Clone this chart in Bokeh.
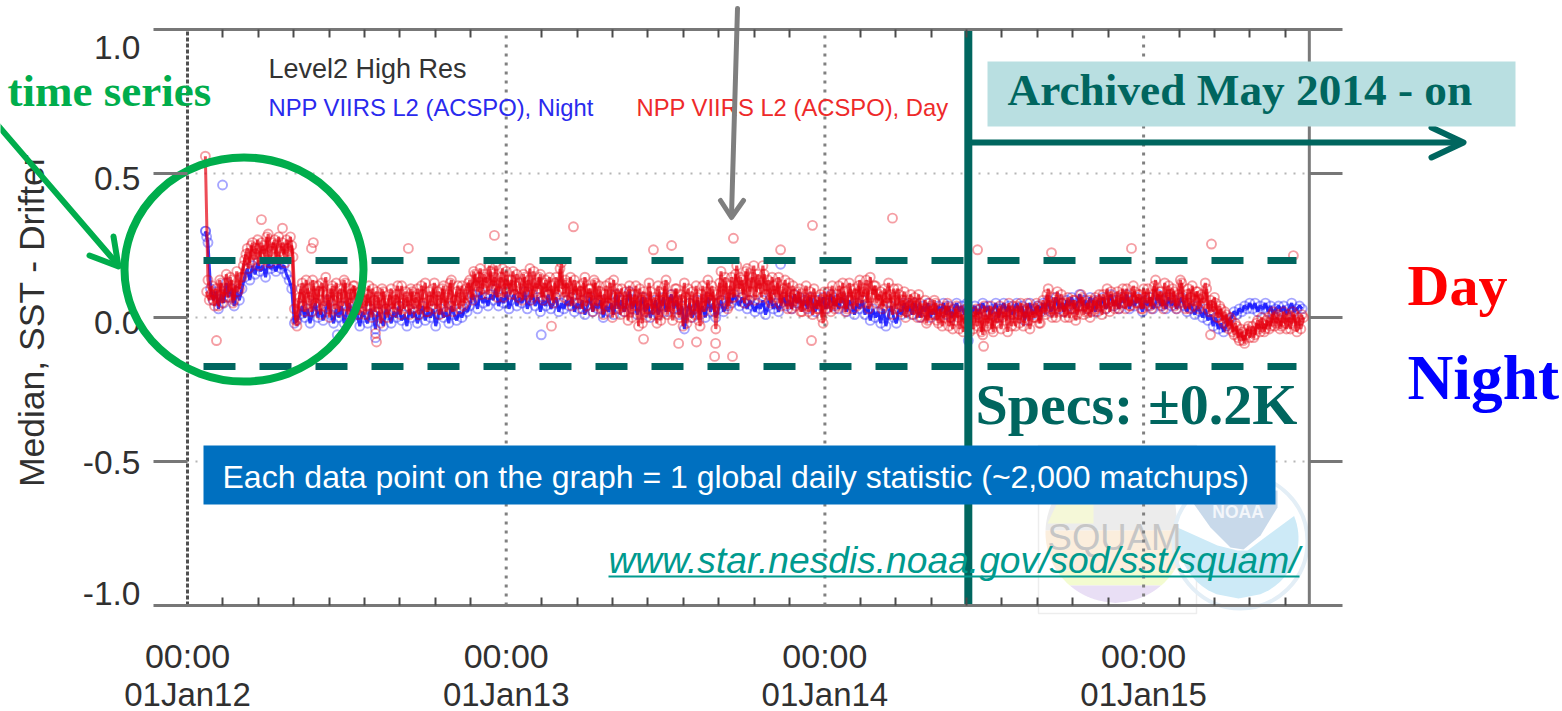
import numpy as np
from bokeh.plotting import figure
from bokeh.models import LinearAxis, FixedTicker
from bokeh.core.properties import value
from bokeh.embed import file_html
from bokeh.resources import INLINE

W, H = 1562, 711

# ---- data -----------------------------------------------------------------
start_year = 2012.056
step_year = 3 / 365.25

day_median = [
 .56,.13,.08,.06,.10,.04,.12,.07,.15,.09,
 .13,.06,.16,.10,.14,.20,.24,.19,.26,.22,
 .27,.21,.25,.20,.29,.23,.26,.21,.28,.24,
 .22,.27,.23,.25,.03,-.03,.07,.12,.02,.10,
 .06,.13,.04,.11,.01,.09,.14,.03,.10,.06,
 .12,.02,.08,.13,.04,.10,.05,.11,.03,.09,
 .06,.01,.08,.04,.10,.02,.07,-.02,.09,.03,
 .06,.10,.02,.08,.04,.11,.03,.07,.01,.09,
 .05,.10,.03,.08,.12,.02,.06,.10,.03,.09,
 .05,.11,.02,.08,.13,.04,.09,.03,.11,.05,
 .08,.13,.06,.15,.09,.17,.10,.14,.08,.16,
 .11,.18,.09,.14,.07,.16,.10,.13,.08,.15,
 .12,.06,.14,.09,.17,.07,.12,.10,.15,.06,
 .13,.08,.11,.05,.14,.09,.19,.07,.12,.10,
 .04,.13,.08,.11,.03,.14,.07,.10,.02,.12,
 .06,.09,.01,.11,.05,.08,.13,.03,.07,.10,
 .02,.06,.11,.00,.08,.04,.10,-.02,.07,.03,
 .09,.01,.05,.11,-.01,.06,.13,.02,.08,.04,
 .10,.00,.06,.12,-.02,.05,.09,.01,.07,-.03,
 .11,.04,.13,.06,.09,-.04,.05,.16,.08,.12,
 .04,.14,.07,.18,.10,.13,.05,.17,.09,.14,
 .06,.15,.10,.18,.08,.13,.05,.11,.07,.14,
 .04,.10,.06,.12,.03,.08,.05,.10,.02,.07,
 .04,.09,.01,.06,.03,.08,-.02,.05,.09,.02,
 .07,.04,.11,.05,.09,.03,.12,.06,.10,.04,
 .13,.07,.10,.05,.14,.08,.11,.06,.09,.04,
 .07,.12,.05,.10,.03,.08,.04,.09,.02,.06,
 .03,.07,.00,.05,.02,.06,-.01,.04,.01,.05,
 -.02,.03,.00,.04,-.03,.02,-.01,.04,-.04,.01,
 -.02,.03,-.05,.00,.02,-.03,.03,-.06,.01,-.02,
 .04,-.05,.00,.03,-.04,.02,-.01,.05,-.03,.01,
 .04,-.02,.03,.00,.05,-.04,.02,.00,.04,-.02,
 .06,.01,.10,.03,.07,.00,.04,.08,.02,.05,
 .00,.03,.06,.01,.04,.07,.02,.05,.00,.04,
 .07,.02,.05,.08,.03,.06,.09,.04,.07,.03,
 .08,.05,.10,.04,.07,.09,.05,.08,.03,.07,
 .10,.04,.08,.13,.05,.09,.03,.07,.11,.05,
 .09,.03,.07,.12,.05,.08,.03,.11,.06,.09,
 .04,.07,.12,.03,.06,.02,.05,.00,.03,-.02,
 .01,-.04,-.01,-.06,-.03,-.08,-.05,-.09,-.04,-.07,
 -.03,-.06,-.01,-.05,-.02,-.04,.00,-.03,.02,-.02,
 .01,-.03,.02,-.04,.00,-.02,.01,-.05,-.01,.01,
]
day_median_b = [
 .09,.06,.11,.04,.08,.13,.05,.10,.07,.14,
 .05,.11,.09,.14,.18,.22,.17,.25,.20,.24,
 .18,.26,.22,.28,.19,.24,.27,.20,.23,.26,
 .19,.24,.28,.21,-.01,.05,.10,.04,.13,.07,
 .02,.11,.05,.09,.12,.04,.08,.00,.11,.03,
 .07,.10,.04,.12,.01,.08,.11,.06,.01,.05,
 .09,.04,.11,.00,.06,.09,.03,.10,.05,.00,
 .08,.03,.06,.11,.01,.05,.09,.04,.10,.03,
 .07,.01,.11,.05,.02,.09,.04,.12,.06,.01,
 .10,.04,.07,.12,.02,.06,.11,.07,.04,.10,
 .12,.07,.16,.11,.14,.08,.15,.12,.18,.10,
 .14,.07,.12,.17,.10,.13,.08,.16,.11,.07,
 .10,.15,.08,.13,.06,.16,.09,.14,.07,.12,
 .09,.14,.06,.12,.08,.17,.10,.13,.06,.14,
 .08,.11,.05,.09,.12,.04,.10,.06,.13,.04,
 .11,.03,.08,.04,.12,.00,.07,.10,.01,.05,
 .09,-.01,.08,.04,.11,-.03,.06,.09,.00,.12,
 .03,.07,-.02,.09,.04,.11,.01,.07,-.01,.10,
 .03,.08,-.03,.07,.10,.00,.04,.11,-.01,.08,
 .02,.09,.05,.11,.02,.08,.12,.06,.14,.03,
 .11,.07,.15,.09,.14,.08,.16,.06,.12,.18,
 .09,.13,.07,.15,.11,.06,.14,.08,.12,.05,
 .09,.13,.03,.07,.11,.04,.09,.02,.06,.11,
 .02,.06,.10,.03,.07,.00,.09,.03,.06,.11,
 .03,.08,.05,.12,.02,.07,.10,.03,.08,.11,
 .05,.09,.13,.03,.07,.11,.05,.08,.03,.10,
 .05,.08,.01,.06,.10,.02,.06,.00,.05,.08,
 .01,.04,.08,.00,.03,-.02,.05,.01,.06,-.01,
 .03,-.03,.02,.05,.00,-.04,.03,.00,.02,-.05,
 .03,-.01,.02,-.04,.03,.00,-.05,.04,-.03,.02,
 -.04,.02,-.02,.04,.00,.03,-.05,.02,.04,-.03,
 .01,.05,-.03,.02,-.01,.03,.00,.05,-.02,.03,
 .02,.08,.04,.00,.05,.09,.02,.05,.00,.07,
 .03,.06,-.01,.04,.08,.01,.03,.06,.02,.06,
 .03,.08,.01,.05,.10,.02,.06,.03,.09,.05,
 .10,.03,.07,.04,.11,.05,.08,.03,.10,.05,
 .07,.03,.11,.06,.09,.04,.12,.06,.08,.10,
 .04,.08,.13,.06,.03,.10,.07,.04,.09,.03,
 .08,.05,.10,.02,.04,.07,.00,.04,-.01,.02,
 -.03,.00,-.05,-.02,-.07,-.04,-.08,-.06,-.03,-.05,
 -.07,-.02,-.04,.00,-.05,-.01,-.04,.01,-.03,.00,
 -.04,.00,-.02,.01,-.04,.02,-.03,.00,-.04,.00,
]
night_median = [
 .30,.26,.10,.06,.09,.03,.08,.05,.12,.07,
 .10,.04,.09,.06,.10,.14,.17,.13,.18,.15,
 .19,.16,.18,.14,.19,.17,.18,.16,.19,.17,
 .18,.15,.13,.10,-.02,-.01,.01,.04,.00,.03,
 -.02,.02,.05,.00,.03,-.01,.02,.06,.01,-.02,
 .03,.00,.04,-.02,.02,.05,.00,.03,.01,-.03,
 .02,.00,-.02,.03,.01,-.04,.02,.00,-.03,.03,
 .01,-.02,.02,.00,.04,-.01,.01,-.03,.03,.00,
 .02,-.02,.01,.04,-.01,.02,.00,.03,-.03,.01,
 .03,.00,.02,-.02,.04,.01,-.01,.02,.00,.03,
 .02,.04,.08,.06,.03,.09,.05,.07,.04,.08,
 .06,.10,.04,.07,.05,.09,.03,.06,.08,.04,
 .07,.05,.09,.03,.06,.08,.04,.07,.02,.06,
 .04,.08,.03,.05,.07,.02,.05,.03,.06,.04,
 .07,.02,.05,.03,.06,.01,.04,.07,.02,.05,
 .03,.06,.00,.04,.02,.05,.01,.08,.03,.06,
 .02,.05,.09,.03,.06,.01,.04,.07,.02,.05,
 .00,.03,.06,.01,.04,.07,.02,.05,.08,.03,
 .06,.01,.04,-.04,.02,.05,.00,.03,.06,.01,
 .04,.00,.07,.02,.05,.00,.03,.06,.02,.04,
 .07,.05,.08,.06,.04,.07,.05,.03,.06,.04,
 .02,.05,.03,.06,.01,.04,.07,.03,.05,.02,
 .05,.07,.04,.06,.03,.08,.05,.07,.04,.06,
 .03,.07,.05,.02,.06,.04,.07,.03,.05,.08,
 .04,.06,.03,.07,.05,.02,.06,.04,.01,.05,
 .03,.06,.01,.04,-.01,.03,.00,.02,-.02,.03,
 -.03,.01,.04,.00,-.02,.03,.01,.05,.02,.04,
 .01,.05,.03,.00,.04,.02,.05,.00,.03,.01,
 .04,.02,.05,.01,.04,.00,.03,.05,.02,.04,
 .01,.05,.03,.02,.04,.01,.03,.05,.02,.04,
 .01,.03,.05,.00,.03,.05,.02,.04,.01,.03,
 .05,.02,.04,-.01,.03,.05,.01,.03,.04,.02,
 .05,.03,.06,.02,.04,.07,.03,.05,.02,.06,
 .04,.07,.03,.05,.08,.04,.06,.03,.07,.05,
 .02,.06,.04,.07,.03,.05,.08,.04,.06,.03,
 .07,.05,.08,.03,.06,.04,.07,.05,.02,.06,
 .04,.07,.03,.05,.08,.04,.06,.03,.07,.04,
 .06,.03,.05,.07,.04,.02,.05,.03,.01,.04,
 .02,.00,.03,-.01,.01,-.03,.00,-.04,-.02,-.05,
 -.03,-.01,.00,.02,.01,.03,.02,.04,.03,.05,
 .03,.05,.02,.04,.03,.05,.02,.04,.01,.03,
 .04,.02,.04,.01,.03,.05,.02,.03,.04,.03,
]
day_out_x = [2012.091,2012.232,2012.298,2012.389,2012.395,2012.693,2012.963,2013.211,2013.142,2013.462,
             2013.519,2013.431,2013.541,2013.597,2013.654,2013.657,2013.710,2013.713,2013.861,2013.958,
             2013.961,2014.212,2014.479,2014.498,2014.711,2014.962,2015.210,2015.213,2015.470,2012.593,2012.590]
day_out_y = [-.08,.34,.31,.24,.26,.24,.285,.315,-.03,.235,
             .25,-.075,-.09,-.085,-.135,-.09,-.135,.275,.235,-.08,
             .32,.345,.235,-.10,.225,.24,-.06,.255,.215,-.085,-.055]
night_out_x = [2012.110,2012.057,2012.060,2013.110,2013.861,2014.450,2012.590,2012.470]
night_out_y = [.46,.30,.28,-.06,.185,-.08,-.07,-.06]

y_ticks = [-1.0,-0.5,0.0,0.5,1.0]
y_tick_labels = ["-1.0","-0.5","0.0","0.5","1.0"]
x_ticks = [2012,2013,2014,2015]
x_time_labels = ["00:00","00:00","00:00","00:00"]
x_date_labels = ["01Jan12","01Jan13","01Jan14","01Jan15"]
spec_hi, spec_lo = 0.198, -0.17
archive_year = 2014.45
last_year = 2015.52

# ---- placement ------------------------------------------------------------
def X(px): return 2012 + (px - 187) / 318.7
def Y(py): return (317 - py) / 288

p = figure(width=W, height=H, output_backend="svg", toolbar_location=None,
           x_range=(X(0), X(W)), y_range=(Y(H), Y(0)),
           x_axis_type=None, y_axis_type=None, min_border=0, outline_line_color=None)
p.grid.visible = False
SANS, SERIF = "Liberation Sans", "Liberation Serif"
TEAL = "#00665f"

def txt(px, py, s, size, color, font=SANS, style="normal", align="left", angle=0):
    p.text([X(px)], [Y(py)], text=[s], text_font=value(font), text_font_size=value(f"{size}px"),
           text_font_style=style, text_color=color, text_align=align, text_baseline="middle", angle=angle)

def poly(pts, **kw):
    p.line([X(a) for a, b in pts], [Y(b) for a, b in pts], line_cap="round", line_join="round", **kw)

def shape(pts, color):
    p.patch([X(a) for a, b in pts], [Y(b) for a, b in pts], color=color, line_color=None)

def band(cx, cy, r, y0, y1, color):
    ys = np.linspace(y0, y1, 30)
    dx = np.sqrt(np.maximum(r * r - (ys - cy) ** 2, 0))
    xs = np.r_[cx - dx, (cx + dx)[::-1]]
    p.patch(X(xs), Y(np.r_[ys, ys[::-1]]), color=color, line_color=None)

# ---- faint logos ----------------------------------------------------------
p.quad(left=[X(1038)], right=[X(1196)], top=[Y(445)], bottom=[Y(613)], fill_color=None, line_color="#ededed", line_width=1.5)
for y0, y1, c in [(470, 530, "#ececec"), (530, 570, "#fbeedd"), (570, 585, "#f3fbd0"), (585, 603, "#e9dff5")]:
    band(1115, 532, 70, y0, y1, c)
shape([(1056, 504), (1093, 504), (1093, 523), (1047, 523)], "#f5f8d8")
band(1238, 538, 60, 478, 598, "#cdeaf7")
shape([(1172, 470), (1177, 527), (1217, 545), (1237, 550), (1247, 550), (1297, 513), (1305, 470)], "#ffffff")
shape([(1193, 490), (1193, 503), (1210, 527), (1230, 547), (1243, 549), (1260, 535), (1277, 507), (1277, 490)], "#c8d9ea")
p.ellipse([X(1240)], [Y(541)], width=[134], height=[134], width_units="screen", height_units="screen",
          fill_color=None, line_color="#e3eef6", line_width=4)
txt(1237.5, 511, "NOAA", 17.5, "#f3f6fa", style="bold", align="center")
txt(1114, 537, "SQUAM", 36.5, "#c6c6c6", align="center")

# ---- frame ----------------------------------------------------------------
p.segment(x0=[X(195)] * 3, x1=[last_year] * 3, y0=[.5, 0, -.5], y1=[.5, 0, -.5], line_color="#b5b5b5", line_width=2.2, line_dash="2 7")
p.segment(x0=x_ticks[1:], x1=x_ticks[1:], y0=[-1] * 3, y1=[1] * 3, line_color="#808080", line_width=3, line_dash="3 6")
p.segment(x0=[2012], x1=[2012], y0=[-1], y1=[1], line_color="#505050", line_width=3, line_dash="4 2")
p.segment(x0=[last_year], x1=[last_year], y0=[-1], y1=[1], line_color="#7a7a7a", line_width=3)

minor = [y + k / 9 for y in (2012, 2013, 2014) for k in range(1, 9)] + [2015 + k / 9 for k in range(1, 5)]
def style_x(ax):
    ax.bounds = (X(153), X(1342))
    ax.axis_line_color = "#777777"; ax.axis_line_width = 3
    ax.major_tick_line_color = None
    ax.minor_tick_line_color = "#4a4a4a"; ax.minor_tick_line_width = 2
    ax.minor_tick_in = 8; ax.minor_tick_out = 0
    ax.ticker = FixedTicker(ticks=x_ticks, minor_ticks=minor)
bot = LinearAxis(fixed_location=-1.0); style_x(bot)
bot.major_label_overrides = dict(zip(x_ticks, x_time_labels))
bot.major_label_text_font = SANS; bot.major_label_text_font_size = "34px"
bot.major_label_text_color = "#303030"; bot.major_label_standoff = 25
p.add_layout(bot, "below")
top = LinearAxis(fixed_location=1.0); style_x(top)
top.major_label_overrides = {v: "" for v in x_ticks}
p.add_layout(top, "above")
for side, loc, tick in (("left", X(153), 34), ("right", X(1342), 33)):
    ax = LinearAxis(fixed_location=loc, bounds=(-1, 1))
    ax.ticker = FixedTicker(ticks=y_ticks[1:-1], minor_ticks=[])
    ax.axis_line_color = None
    ax.major_tick_line_color = "#777777"; ax.major_tick_line_width = 3
    ax.major_tick_in = tick; ax.major_tick_out = 0
    ax.minor_tick_line_color = None
    ax.major_label_overrides = {v: "" for v in y_ticks}
    p.add_layout(ax, side)

for lbl, py in zip(y_tick_labels, [593, 462, 322, 178, 47]):
    txt(140, py, lbl, 33.5, "#303030", align="right")
for yr, lbl in zip(x_ticks, x_date_labels):
    p.text([yr], [Y(693.5)], text=[lbl], text_font=value(SANS), text_font_size=value("33px"), text_color="#303030",
           text_align="center", text_baseline="middle")
txt(31, 315, "Median,  SST - Drifter", 35.5, "#303030", align="center", angle=np.pi / 2)
txt(268, 68, "Level2 High Res", 27, "#333333")
txt(268, 107, "NPP VIIRS L2 (ACSPO), Night", 23.8, "#2a2aee")
txt(636, 107, "NPP VIIRS L2 (ACSPO), Day", 23.8, "#ee2a2a")

# ---- series ---------------------------------------------------------------
night_x = start_year + step_year * np.arange(len(night_median))
day_x = start_year + step_year * np.arange(len(day_median))
day_x_b = day_x + step_year / 2
RED, BLUE = "#e6000f", "#1414ff"
p.line(night_x, night_median, line_color=BLUE, line_alpha=.85, line_width=3)
p.scatter(np.r_[night_x, night_out_x], np.r_[night_median, night_out_y], size=9, marker="circle", fill_color=None,
          line_color=BLUE, line_alpha=.38, line_width=1.9)
p.line(day_x, day_median, line_color=RED, line_alpha=.7, line_width=3)
p.line(day_x_b, day_median_b, line_color=RED, line_alpha=.7, line_width=3)
p.scatter(np.r_[day_x, day_x_b, day_out_x], np.r_[day_median, day_median_b, day_out_y], size=9, marker="circle",
          fill_color=None, line_color=RED, line_alpha=.38, line_width=1.9)

# ---- overlays -------------------------------------------------------------
for lvl in (spec_hi, spec_lo):
    p.line([X(203), X(1296)], [lvl, lvl], line_color=TEAL, line_width=7, line_dash="32 24")
poly([(737, 8), (731, 215)], line_color="#7f7f7f", line_width=5)
poly([(720, 200), (731, 217), (743, 200)], line_color="#7f7f7f", line_width=5)
p.ellipse([X(243.5)], [Y(269)], width=[239], height=[224], width_units="screen", height_units="screen",
          fill_color=None, line_color="#00ad4c", line_width=8)
poly([(-5, 122), (118, 265)], line_color="#00ad4c", line_width=6)
poly([(113, 236), (118, 266), (89, 255)], line_color="#00ad4c", line_width=6)
txt(7, 90, "time series", 45, "#00ad4c", SERIF, "bold")

p.line([archive_year, archive_year], [-1, 1], line_color=TEAL, line_width=8)
p.line([archive_year, X(1462)], [Y(142), Y(142)], line_color=TEAL, line_width=6)
poly([(1431, 127), (1463, 142), (1431, 157)], line_color=TEAL, line_width=6)
p.quad(left=[X(987)], right=[X(1515)], top=[Y(61)], bottom=[Y(126)], fill_color="#b9dfe1", line_color=None)
txt(1007, 89, "Archived May 2014 - on", 45.3, TEAL, SERIF, "bold")
txt(975, 404, "Specs: ±0.2K", 58, TEAL, SERIF, "bold")
txt(1407, 285, "Day", 58, "#ff0000", SERIF, "bold")
txt(1407, 377, "Night", 63.5, "#0000ff", SERIF, "bold")

p.quad(left=[X(203)], right=[X(1275)], top=[Y(445)], bottom=[Y(504)], fill_color="#0070c0", line_color=None)
txt(222, 476, "Each data point on the graph = 1 global daily statistic (~2,000 matchups)", 32, "#ffffff")
txt(608, 559, "www.star.nesdis.noaa.gov/sod/sst/squam/", 37.2, "#009a8e", style="italic")
p.line([X(608), X(1299)], [Y(576), Y(576)], line_color="#009a8e", line_width=2)

open("out.html", "w").write(file_html(p, INLINE))
